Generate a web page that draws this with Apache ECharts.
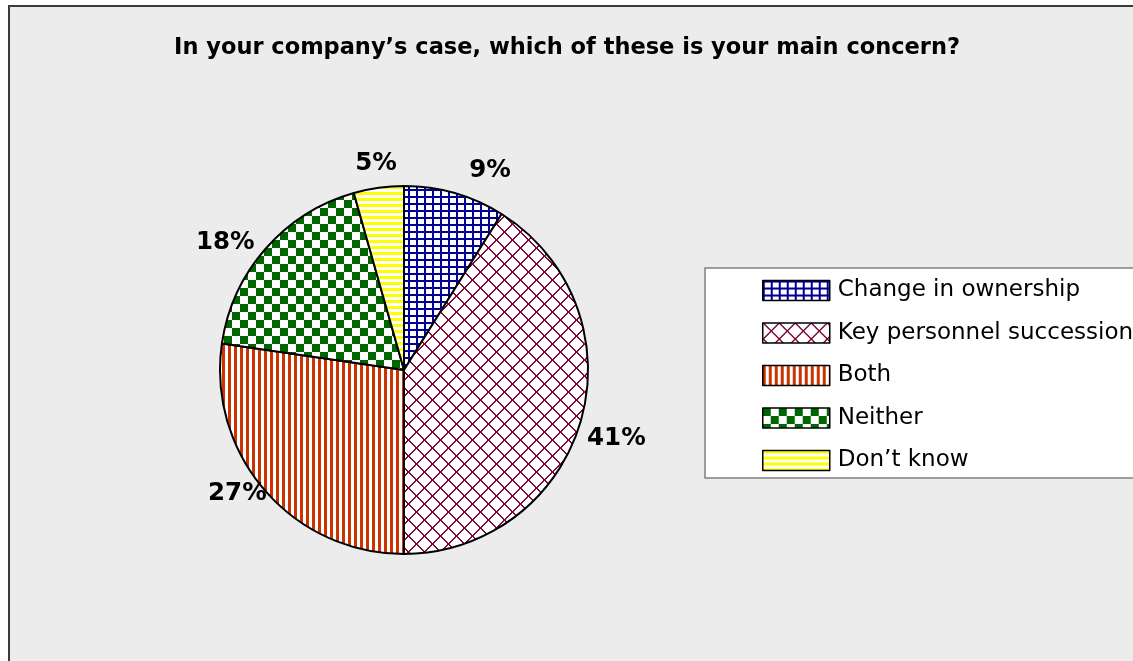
<!DOCTYPE html>
<html>
<head>
<meta charset="utf-8">
<script src="https://cdn.jsdelivr.net/npm/echarts@6/dist/echarts.min.js"></script>
<style>
html,body{margin:0;padding:0;background:#ffffff;}
#chart{width:1133px;height:661px;}
</style>
</head>
<body>
<div id="chart"></div>
<script>
const titleText = 'In your company’s case, which of these is your main concern?';
const categories = ['Change in ownership', 'Key personnel succession', 'Both', 'Neither', 'Don’t know'];
const values = [8.9, 41.1, 27.3, 18.3, 4.4];
// label texts as printed on the chart
const labelTexts = ['9%', '41%', '27%', '18%', '5%'];
const patternKinds = ['grid', 'lattice', 'vstripe', 'checker', 'hstripe'];
// small label nudges (layout only)
const labelNudges = [[4, -3], [-18, 12], [22, -10], [9, 7], [26, -4]];

function makePattern(kind) {
  const c = document.createElement('canvas');
  let ctx;
  if (kind === 'grid') {
    c.width = 8; c.height = 7; ctx = c.getContext('2d');
    ctx.fillStyle = '#ffffff'; ctx.fillRect(0, 0, 8, 7);
    ctx.fillStyle = '#000099';
    ctx.fillRect(0, 0, 2, 7); ctx.fillRect(0, 0, 8, 2);
  } else if (kind === 'lattice') {
    c.width = 16; c.height = 16; ctx = c.getContext('2d');
    ctx.fillStyle = '#ffffff'; ctx.fillRect(0, 0, 16, 16);
    ctx.fillStyle = '#7a0a3c';
    for (let i = 0; i < 16; i++) {
      ctx.fillRect(i, i, 2, 1);
      ctx.fillRect(15 - i, i, 2, 1);
      ctx.fillRect(-1 + (15 - i) + 16, i, 2, 1);
    }
  } else if (kind === 'vstripe') {
    c.width = 6; c.height = 6; ctx = c.getContext('2d');
    ctx.fillStyle = '#ffffff'; ctx.fillRect(0, 0, 6, 6);
    ctx.fillStyle = '#cc3300'; ctx.fillRect(0, 0, 3, 6);
  } else if (kind === 'checker') {
    c.width = 16; c.height = 16; ctx = c.getContext('2d');
    ctx.fillStyle = '#ffffff'; ctx.fillRect(0, 0, 16, 16);
    ctx.fillStyle = '#006600';
    ctx.fillRect(0, 0, 8, 8); ctx.fillRect(8, 8, 8, 8);
  } else {
    c.width = 6; c.height = 6; ctx = c.getContext('2d');
    ctx.fillStyle = '#ffffff'; ctx.fillRect(0, 0, 6, 6);
    ctx.fillStyle = '#ffff00'; ctx.fillRect(0, 0, 6, 3);
  }
  return { image: c, repeat: 'repeat' };
}

const chart = echarts.init(document.getElementById('chart'), null, { renderer: 'canvas' });
const pieData = categories.map((name, i) => ({
  name: name,
  value: values[i],
  itemStyle: { color: makePattern(patternKinds[i]) },
  label: { formatter: labelTexts[i], offset: labelNudges[i] }
}));

chart.setOption({
  backgroundColor: '#ffffff',
  animation: false,
  graphic: [{
    type: 'rect',
    z: -10,
    silent: true,
    shape: { x: 9, y: 6, width: 1300, height: 800 },
    style: { fill: '#ececec', stroke: '#3a3a3a', lineWidth: 2 }
  }],
  title: {
    text: titleText,
    left: 562,
    textAlign: 'center',
    top: 32,
    textStyle: { fontFamily: 'DejaVu Sans', fontWeight: 'bold', fontSize: 22.5, color: '#000000' }
  },
  legend: {
    orient: 'vertical',
    left: 705,
    top: 268,
    padding: [11, 120, 6, 57],
    itemWidth: 67,
    itemHeight: 20,
    itemGap: 19.5,
    backgroundColor: '#ffffff',
    borderColor: '#808080',
    borderWidth: 1.5,
    icon: 'rect',
    selectedMode: false,
    itemStyle: { borderColor: '#000000', borderWidth: 1.5 },
    textStyle: { fontFamily: 'DejaVu Sans', fontSize: 23, lineHeight: 20, color: '#000000', padding: [0, 0, 0, 3] },
    data: categories
  },
  series: [{
    type: 'pie',
    center: [404, 370],
    radius: 184,
    startAngle: 90,
    clockwise: true,
    avoidLabelOverlap: false,
    itemStyle: { borderColor: '#000000', borderWidth: 2 },
    label: {
      show: true,
      position: 'outside',
      fontFamily: 'DejaVu Sans',
      fontWeight: 'bold',
      fontSize: 24.5,
      color: '#000000'
    },
    labelLine: { show: false, length: 20, length2: 0 },
    emphasis: { disabled: true },
    data: pieData
  }]
});
</script>
</body>
</html>
